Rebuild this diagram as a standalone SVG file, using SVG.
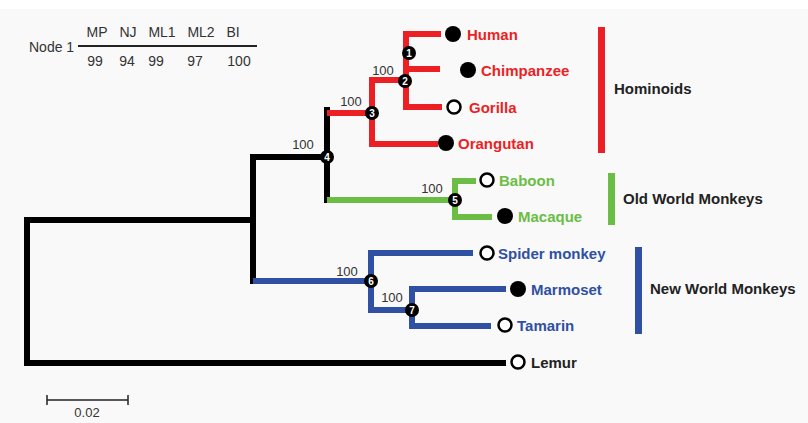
<svg xmlns="http://www.w3.org/2000/svg" width="808" height="423" viewBox="0 0 808 423">
<defs>
<style>
.bg{fill:#f9f9f9}
.br{fill:none;stroke-width:6;stroke-linecap:square;stroke-linejoin:miter}
.k{stroke:#000}
.r{stroke:#ec1f24}
.g{stroke:#6cbd45}
.b{stroke:#2f50a3}
.t{font-family:"Liberation Sans",Arial,sans-serif;font-size:15px;font-weight:bold}
.tr{fill:#ec1f24}.tg{fill:#6cbd45}.tb{fill:#2f50a3}.tk{fill:#222}
.sm{font-family:"Liberation Sans",Arial,sans-serif;font-size:13px;fill:#333}
.lg{font-size:14px}
.nn circle{fill:#000}
.nn text{font-family:"Liberation Sans",Arial,sans-serif;font-size:10px;font-weight:bold;fill:#fff;text-anchor:middle}
.fd{fill:#000}
.od{fill:#fff;stroke:#000;stroke-width:2.5}
</style>
</defs>
<rect x="0" y="0" width="808" height="423" fill="#ffffff"/>
<rect class="bg" x="0" y="9" width="808" height="414"/>

<g id="legend">
<text class="sm lg" x="29" y="52">Node 1</text>
<line x1="78" y1="46" x2="257" y2="46" stroke="#222" stroke-width="2"/>
<text class="sm lg" x="97" y="37" text-anchor="middle">MP</text>
<text class="sm lg" x="128" y="37" text-anchor="middle">NJ</text>
<text class="sm lg" x="162" y="37" text-anchor="middle">ML1</text>
<text class="sm lg" x="201" y="37" text-anchor="middle">ML2</text>
<text class="sm lg" x="233" y="37" text-anchor="middle">BI</text>
<text class="sm lg" x="95" y="66" text-anchor="middle">99</text>
<text class="sm lg" x="127" y="66" text-anchor="middle">94</text>
<text class="sm lg" x="156" y="66" text-anchor="middle">99</text>
<text class="sm lg" x="195" y="66" text-anchor="middle">97</text>
<text class="sm lg" x="239" y="66" text-anchor="middle">100</text>
</g>

<g id="connectors">
<path class="br k" d="M251,220 H27 V363 H503"/>
<path class="br k" d="M327,157 H253 V281"/>
<path class="br k" d="M327,110 V200"/>
<path class="br r" d="M330,113 H372"/>
<path class="br r" d="M435,144 H372 V80 H406"/>
<path class="br r" d="M438,34 H406 V107 H439"/>
<path class="br r" d="M406,69 H437"/>
<path class="br g" d="M330,200 H455"/>
<path class="br g" d="M473,181 H455 V217 H489"/>
<path class="br b" d="M256,281 H371"/>
<path class="br b" d="M470,253 H371 V310 H412"/>
<path class="br b" d="M503,289 H412 V326 H488"/>
</g>

<g id="bootstrap">
<text class="sm" x="383" y="75" text-anchor="middle">100</text>
<text class="sm" x="351" y="106" text-anchor="middle">100</text>
<text class="sm" x="303" y="149" text-anchor="middle">100</text>
<text class="sm" x="432" y="193" text-anchor="middle">100</text>
<text class="sm" x="347" y="276" text-anchor="middle">100</text>
<text class="sm" x="392" y="302" text-anchor="middle">100</text>
</g>

<g id="n1" class="nn"><circle cx="409" cy="53" r="7"/><text x="409" y="56.5">1</text></g>
<g id="n2" class="nn"><circle cx="405" cy="81" r="7"/><text x="405" y="84.5">2</text></g>
<g id="n3" class="nn"><circle cx="372" cy="113" r="7"/><text x="372" y="116.5">3</text></g>
<g id="n4" class="nn"><circle cx="327" cy="157" r="7"/><text x="327" y="160.5">4</text></g>
<g id="n5" class="nn"><circle cx="455" cy="200" r="7"/><text x="455" y="203.5">5</text></g>
<g id="n6" class="nn"><circle cx="371" cy="281" r="7"/><text x="371" y="284.5">6</text></g>
<g id="n7" class="nn"><circle cx="412" cy="310" r="7"/><text x="412" y="313.5">7</text></g>

<g id="human"><circle class="fd" cx="453" cy="34" r="8"/><text class="t tr" x="467" y="39.5">Human</text></g>
<g id="chimpanzee"><circle class="fd" cx="468" cy="70" r="8"/><text class="t tr" x="481" y="75.5">Chimpanzee</text></g>
<g id="gorilla"><circle class="od" cx="454" cy="107" r="6.5"/><text class="t tr" x="469" y="112.5">Gorilla</text></g>
<g id="orangutan"><circle class="fd" cx="446" cy="143" r="8"/><text class="t tr" x="458" y="148.5">Orangutan</text></g>
<g id="baboon"><circle class="od" cx="487" cy="180" r="6.5"/><text class="t tg" x="499" y="185.5">Baboon</text></g>
<g id="macaque"><circle class="fd" cx="505" cy="216" r="8"/><text class="t tg" x="518" y="221.5">Macaque</text></g>
<g id="spider"><circle class="od" cx="487" cy="253" r="6.5"/><text class="t tb" x="498" y="258.5">Spider monkey</text></g>
<g id="marmoset"><circle class="fd" cx="518" cy="289" r="8"/><text class="t tb" x="531" y="294.5">Marmoset</text></g>
<g id="tamarin"><circle class="od" cx="505" cy="325" r="6.5"/><text class="t tb" x="517" y="330.5">Tamarin</text></g>
<g id="lemur"><circle class="od" cx="518" cy="362" r="6.5"/><text class="t tk" x="531" y="367.5">Lemur</text></g>

<g id="hominoids"><rect x="598" y="27" width="7" height="126" fill="#ec1f24"/><text class="t tk" x="614" y="93.5">Hominoids</text></g>
<g id="oldworld"><rect x="608" y="173" width="7" height="52" fill="#6cbd45"/><text class="t tk" x="623" y="203.5">Old World Monkeys</text></g>
<g id="newworld"><rect x="635" y="247" width="7" height="87" fill="#2f50a3"/><text class="t tk" x="650" y="293.5">New World Monkeys</text></g>

<g id="scale">
<path d="M47,400 H128 M47,395 V405 M128,395 V405" stroke="#222" stroke-width="1.5" fill="none"/>
<text class="sm" x="87" y="417" text-anchor="middle" font-size="12">0.02</text>
</g>
</svg>
